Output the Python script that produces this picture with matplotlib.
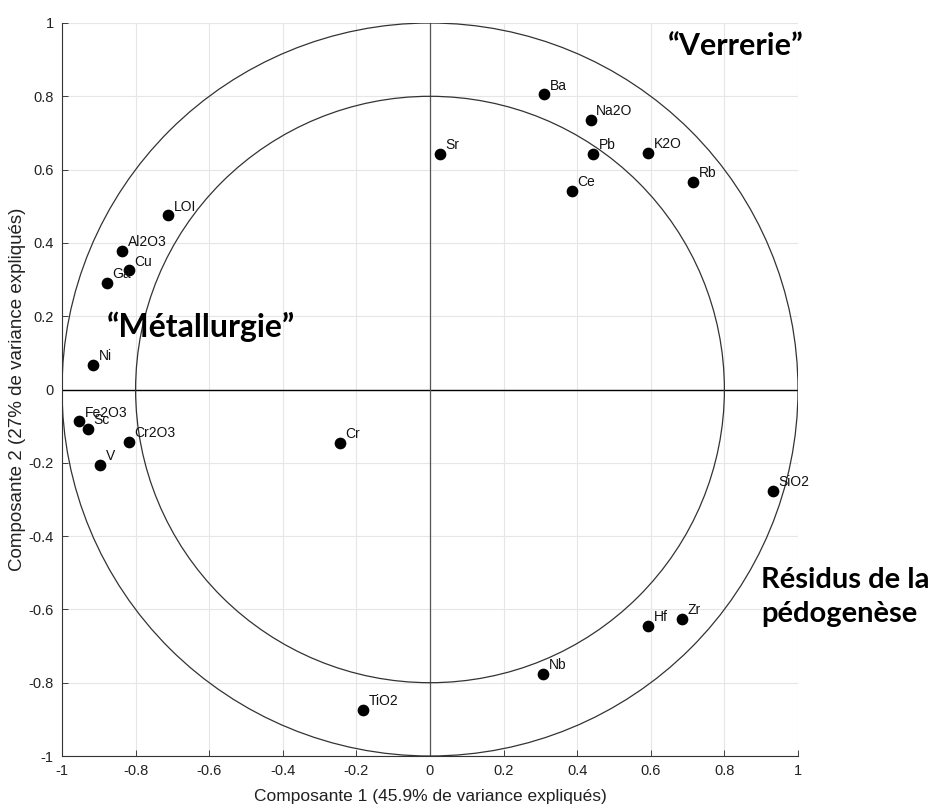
import matplotlib
matplotlib.use("Agg")
import matplotlib.pyplot as plt
from matplotlib.patches import Circle

labels = ["Ba", "Na2O", "Sr", "Pb", "K2O", "Rb", "Ce", "LOI", "Al2O3", "Cu", "Ga",
          "Ni", "Fe2O3", "Sc", "Cr2O3", "V", "Cr", "SiO2", "Hf", "Zr", "Nb", "TiO2"]
pc1 = [0.31, 0.437, 0.027, 0.443, 0.592, 0.715, 0.386, -0.712, -0.837, -0.818, -0.878,
       -0.916, -0.954, -0.93, -0.818, -0.897, -0.245, 0.932, 0.592, 0.685, 0.307, -0.182]
pc2 = [0.805, 0.735, 0.642, 0.642, 0.645, 0.566, 0.541, 0.475, 0.378, 0.325, 0.29,
       0.066, -0.087, -0.107, -0.142, -0.205, -0.145, -0.276, -0.645, -0.626, -0.776, -0.874]
ticks = [-1, -0.8, -0.6, -0.4, -0.2, 0, 0.2, 0.4, 0.6, 0.8, 1]
tick_labels = ["-1", "-0.8", "-0.6", "-0.4", "-0.2", "0", "0.2", "0.4", "0.6", "0.8", "1"]
radii = [1.0, 0.8]
groups = ["\u201cVerrerie\u201d", "\u201cMétallurgie\u201d", "Résidus de la\npédogenèse"]
group_pos = [(0.645, 0.937), (-0.878, 0.172), (0.9, -0.566)]
group_size = [22, 23, 21]

fig = plt.figure(figsize=(9.34, 8.10), dpi=100)
ax = fig.add_axes([62/934, 1 - 756/810, (798-62)/934, (756-23)/810])
ax.set_xlim(-1, 1)
ax.set_ylim(-1, 1)

ax.grid(True, color="#e6e6e6", linewidth=0.8)
ax.set_axisbelow(True)
for side in ["top", "right"]:
    ax.spines[side].set_visible(False)
for side in ["left", "bottom"]:
    ax.spines[side].set_color("#333333")
    ax.spines[side].set_linewidth(0.8)

ax.axhline(0, color="black", linewidth=1.0, zorder=1)
ax.axvline(0, color="#555555", linewidth=0.9, zorder=1)
for r in radii:
    ax.add_patch(Circle((0, 0), r, fill=False, edgecolor="#333333", linewidth=0.9, zorder=2))

ax.scatter(pc1, pc2, s=55, color="black", zorder=3)
for lab, x, y in zip(labels, pc1, pc2):
    ax.annotate(lab, (x, y), xytext=(4, 3.5), textcoords="offset points",
                fontsize=10, family="Liberation Sans", color="#111111", zorder=4)

ax.set_xticks(ticks)
ax.set_xticklabels(tick_labels)
ax.set_yticks(ticks)
ax.set_yticklabels(tick_labels)
ax.tick_params(direction="in", length=4, width=0.6, labelsize=10.5, colors="#222222", pad=6)
for t in ax.get_xticklabels() + ax.get_yticklabels():
    t.set_family("Liberation Sans")

ax.set_xlabel("Composante 1 (45.9% de variance expliqués)", fontsize=12.5,
              family="Liberation Sans", color="#222222", labelpad=8)
ax.set_ylabel("Composante 2 (27% de variance expliqués)", fontsize=13.5,
              family="Liberation Sans", color="#222222", labelpad=2)

for txt, (gx, gy), gs in zip(groups, group_pos, group_size):
    ax.text(gx, gy, txt, fontsize=gs, fontweight="bold", family="Lato",
            ha="left", va="center", linespacing=1.4, clip_on=False)

fig.savefig("out.png", dpi=100, facecolor="white")
